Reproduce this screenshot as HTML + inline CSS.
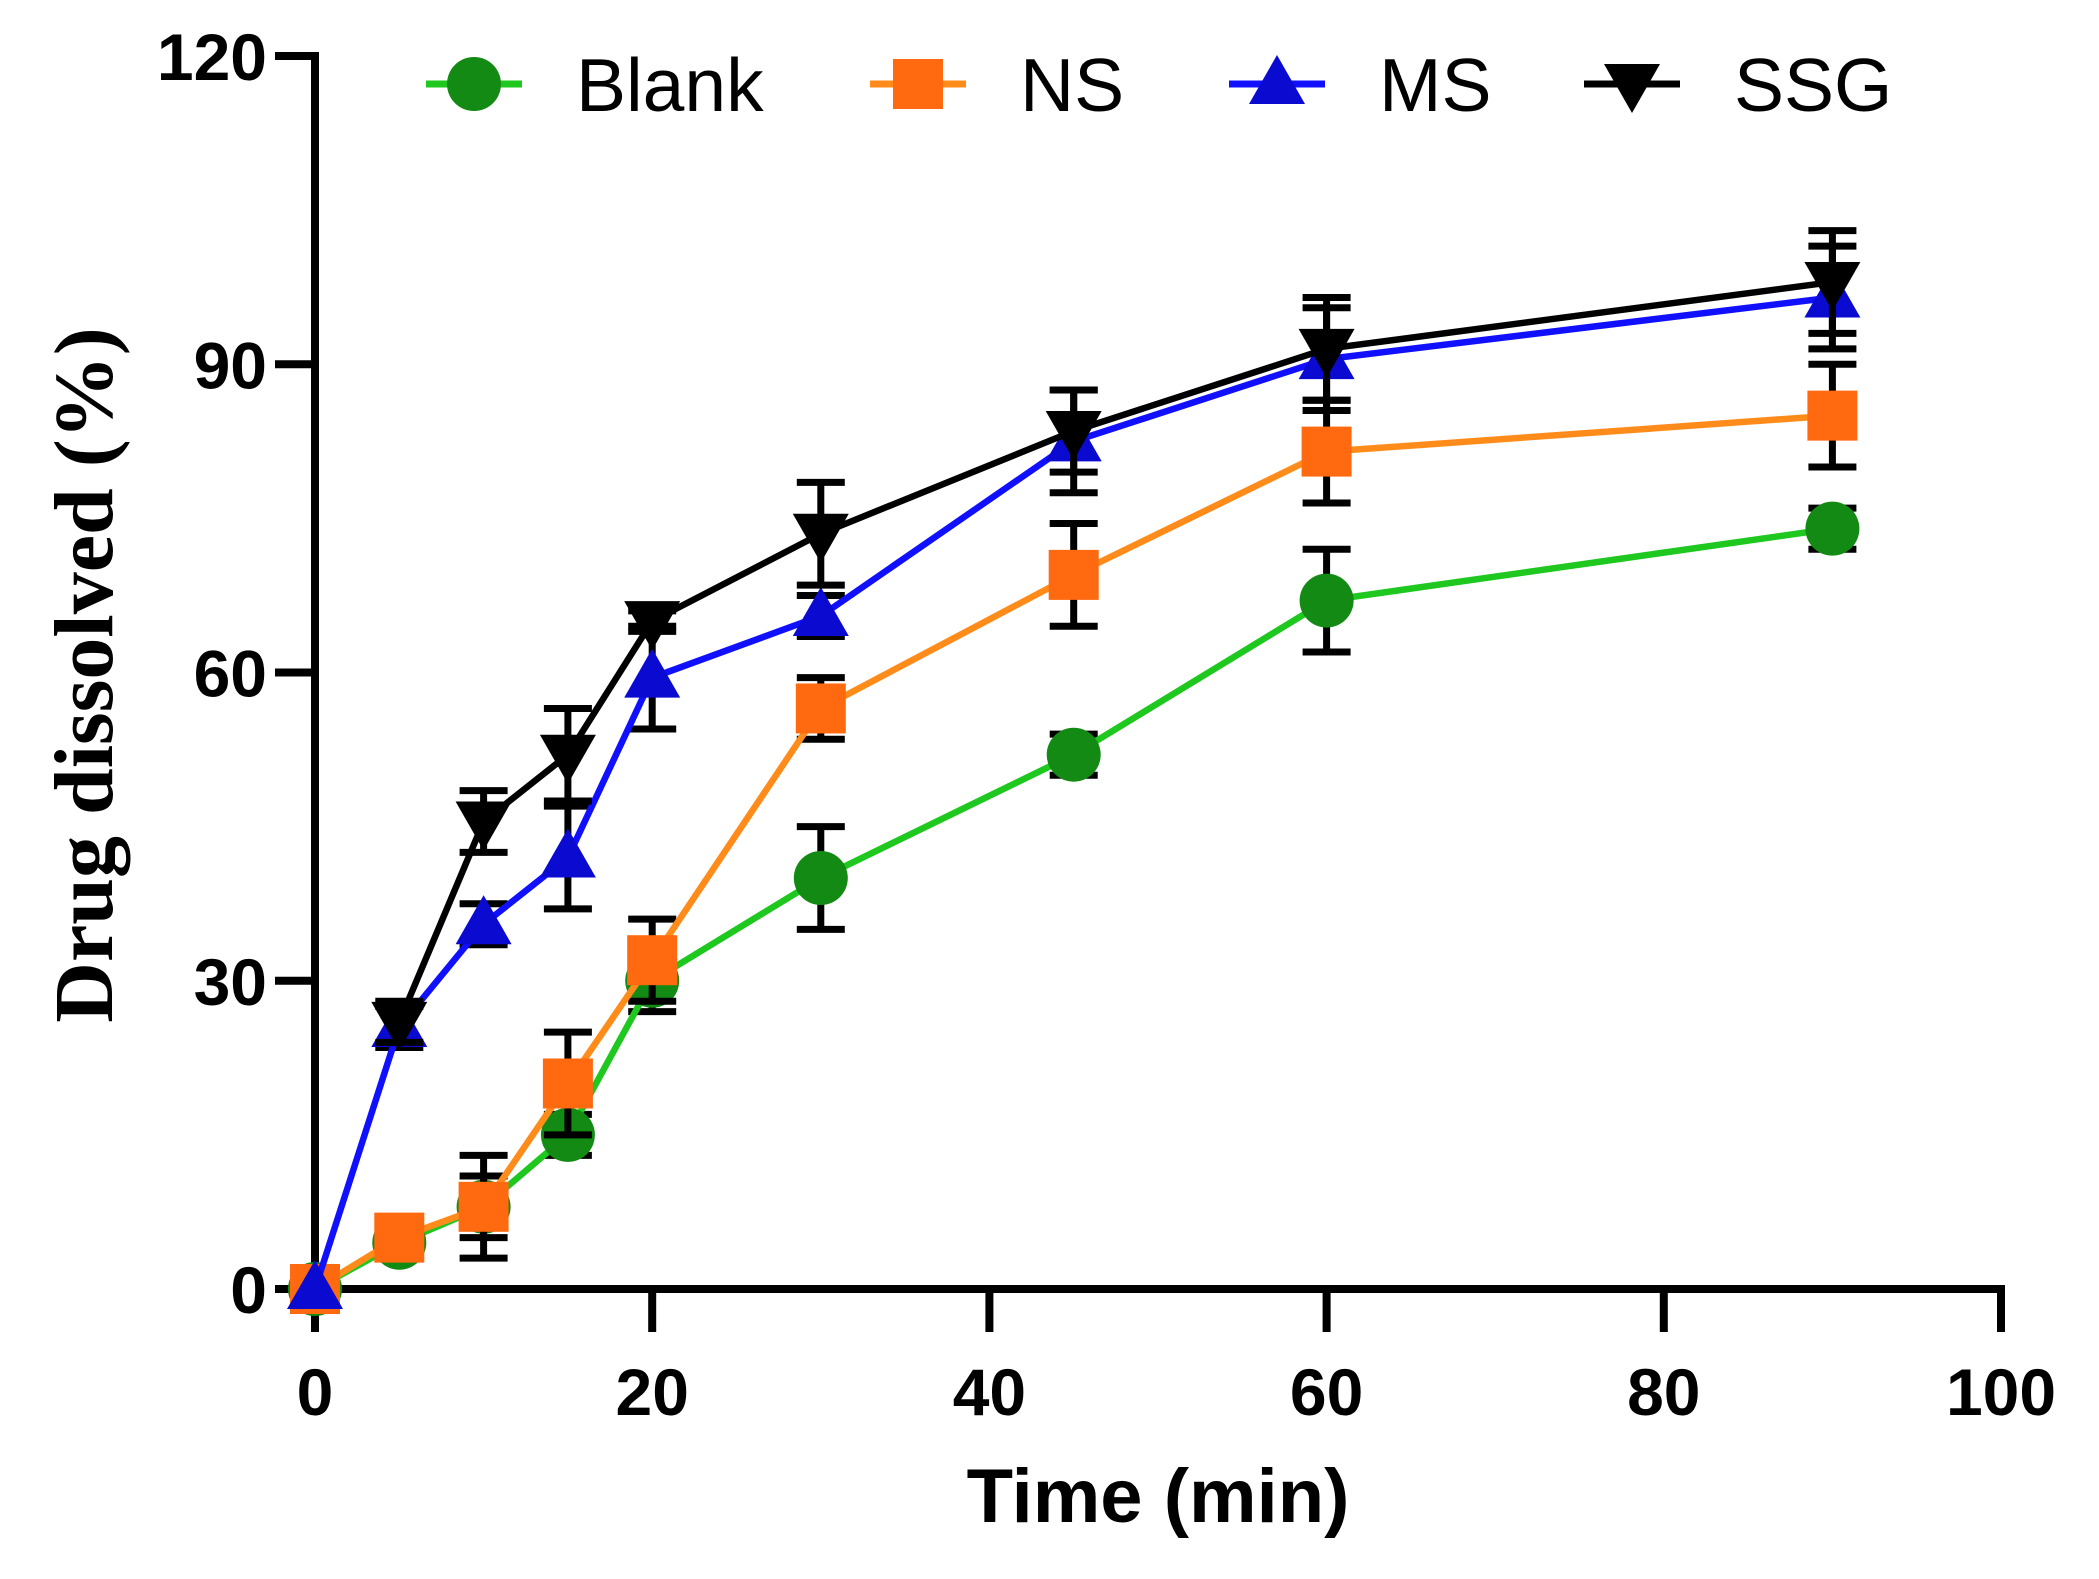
<!DOCTYPE html>
<html><head><meta charset="utf-8"><style>html,body{margin:0;padding:0;background:#fff}svg{display:block}</style></head>
<body>
<svg id="chart" width="2099" height="1579" viewBox="0 0 2099 1579" xmlns="http://www.w3.org/2000/svg">
<g id="axes"></g><g id="series"></g><g id="legend"></g>
</svg>
<script>
const times = [0,5,10,15,20,30,45,60,90];
const seriesNames = ["Blank","NS","MS","SSG"];
const blankVals = [0,4.5,8,15,30,40,52,67,74];
const blankErr = [0,1,5,2,3,5,2,5,2];
const nsVals = [0,5,8,20,32,56.5,69.5,81.5,85];
const nsErr = [0,1,3,5,4,3,5,5,5];
const msVals = [0,25.5,35.5,42,59.5,65.5,82.5,90.5,96.5];
const msErr = [0,2,2,5,5,2,5,5,5];
const ssgVals = [null,26,45.5,52,65,73.5,83.5,91.5,98];
const ssgErr = [0,2,3,4.5,1,5,4,5,5];
const xTicks = [0,20,40,60,80,100];
const yTicks = [0,30,60,90,120];

const NS="http://www.w3.org/2000/svg";
const X0=315,X1=2001,Y0=1289,Y1=56;
const xs=v=>X0+(X1-X0)*v/100;
const ys=v=>Y0-(Y0-Y1)*v/120;
function mk(t,a,p){const e=document.createElementNS(NS,t);for(const k in a)e.setAttribute(k,a[k]);p.appendChild(e);return e;}
const axes=document.getElementById('axes');
const yAxis=mk('line',{x1:X0,y1:Y1-4,x2:X0,y2:Y0+4,stroke:'#000','stroke-width':8},axes);


const xAxis=mk('line',{x1:X0-4,y1:Y0,x2:X1+4,y2:Y0,stroke:'#000','stroke-width':8},axes);


yTicks.forEach(v=>{
  const t=mk('line',{x1:X0-40,y1:ys(v),x2:X0,y2:ys(v),stroke:'#000','stroke-width':8},axes);
  
  
  const l=mk('text',{x:X0-48,y:ys(v)+24,'text-anchor':'end','font-family':'Liberation Sans, sans-serif','font-weight':'bold','font-size':66},axes);
  l.textContent=v;
  
  
});
xTicks.forEach(v=>{
  const t=mk('line',{x1:xs(v),y1:Y0,x2:xs(v),y2:Y0+43,stroke:'#000','stroke-width':8},axes);
  
  
  const l=mk('text',{x:xs(v),y:Y0+126,'text-anchor':'middle','font-family':'Liberation Sans, sans-serif','font-weight':'bold','font-size':66},axes);
  l.textContent=v;
  
  
});
const xt=mk('text',{x:1158,y:1522,'text-anchor':'middle','font-family':'Liberation Sans, sans-serif','font-weight':'bold','font-size':76},axes);
xt.textContent='Time (min)';


const yt=mk('text',{x:0,y:0,'text-anchor':'middle','font-family':'Liberation Serif, serif','font-weight':'bold','font-size':84,transform:'translate(112,675) rotate(-90)'},axes);
yt.textContent='Drug dissolved (%)';



function marker(type,cx,cy,color,p){
  let e;
  if(type==='circle')e=mk('circle',{cx,cy,r:27,fill:color},p);
  else if(type==='square')e=mk('rect',{x:cx-25,y:cy-25,width:50,height:50,fill:color},p);
  else if(type==='up')e=mk('polygon',{points:`${cx},${cy-29} ${cx-28},${cy+20} ${cx+28},${cy+20}`,fill:color},p);
  else e=mk('polygon',{points:`${cx},${cy+29} ${cx-28},${cy-20} ${cx+28},${cy-20}`,fill:color},p);
  return e;
}
const defs=[
 {name:'blank',vals:blankVals,err:blankErr,color:'#1ec81e',mcolor:'#138a13',m:'circle'},
 {name:'ns',vals:nsVals,err:nsErr,color:'#ff8c1a',mcolor:'#ff6a10',m:'square'},
 {name:'ms',vals:msVals,err:msErr,color:'#1010ff',mcolor:'#0a0ad0',m:'up'},
 {name:'ssg',vals:ssgVals,err:ssgErr,color:'#000',mcolor:'#000',m:'down'}];
const sg=document.getElementById('series');
defs.forEach(d=>{
  const g=mk('g',{},sg);
  
  
  d.vals.forEach((v,i)=>{
    if(v===null||!d.err[i])return;
    const x=xs(times[i]);
    const e=mk('path',{d:`M${x},${ys(v-d.err[i])}V${ys(v+d.err[i])}M${x-24},${ys(v+d.err[i])}h48M${x-24},${ys(v-d.err[i])}h48`,stroke:'#000','stroke-width':7,fill:'none'},g);
    
    
  });
  const pts=[];d.vals.forEach((v,i)=>{if(v!==null)pts.push(xs(times[i])+','+ys(v));});
  const pl=mk('polyline',{points:pts.join(' '),fill:'none',stroke:d.color,'stroke-width':6.5},g);
  
  
  d.vals.forEach((v,i)=>{
    if(v===null)return;
    const m=marker(d.m,xs(times[i]),ys(v),d.mcolor,g);
    
    
  });
});
const lg=document.getElementById('legend');
const lx=[426,870,1229,1584];
defs.forEach((d,i)=>{
  const g=mk('g',{},lg);
  
  
  mk('line',{x1:lx[i],y1:84,x2:lx[i]+96,y2:84,stroke:d.color,'stroke-width':7},g);
  marker(d.m,lx[i]+48,84,d.mcolor,g);
  const t=mk('text',{x:lx[i]+150,y:111,'font-family':'Liberation Sans, sans-serif','font-size':75},g);
  t.textContent=seriesNames[i];
});
</script>
</body></html>
